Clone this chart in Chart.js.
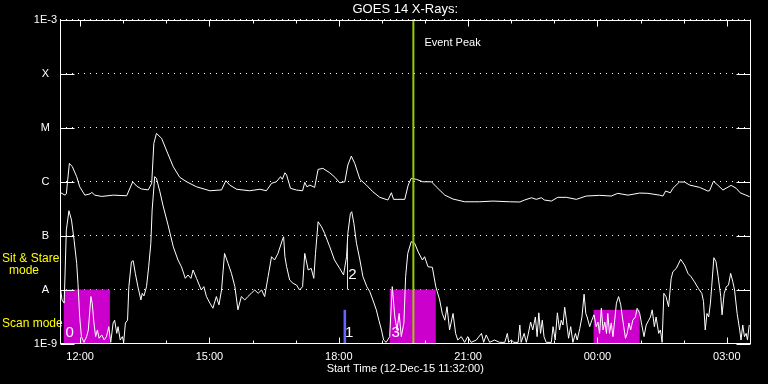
<!DOCTYPE html>
<html>
<head>
<meta charset="utf-8">
<script src="https://cdn.jsdelivr.net/npm/chart.js@4"></script>
<style>
  html, body { margin: 0; padding: 0; background: #000; }
  #wrap { width: 768px; height: 384px; }
</style>
</head>
<body>
<div id="wrap"><canvas id="goesChart" width="768" height="384"></canvas></div>
<script>
// hours since 00:00 on 12-Dec-15 (values > 24 are the next day)
const startHour = 11.533
const endHour = 27.55

// long channel (upper curve), W/m^2
const upperTime = [11.55, 11.65, 11.68, 11.75, 11.82, 11.92, 11.99, 12.11, 12.23, 12.27, 12.34, 12.50, 12.77, 13.08, 13.22, 13.31, 13.42, 13.58, 13.66, 13.71, 13.77, 13.89, 14.00, 14.16, 14.31, 14.47, 14.70, 15.01, 15.28, 15.38, 15.47, 15.63, 15.93, 16.17,
  16.32, 16.44, 16.55, 16.65, 16.69, 16.75, 16.79, 16.88, 17.02, 17.16, 17.21, 17.26, 17.33, 17.44, 17.52, 17.63, 17.79, 17.91, 18.02, 18.14, 18.21, 18.29, 18.37, 18.49, 18.64, 18.79, 18.95, 19.14, 19.22, 19.27, 19.53, 19.61, 19.68, 19.80, 19.95, 20.15, 20.26, 20.46, 20.65, 20.92, 21.27, 21.58, 21.96,
  22.20, 22.31, 22.47, 22.58, 22.70, 22.77, 22.93, 23.08, 23.28, 23.51, 23.74, 24.05, 24.32, 24.47, 24.71, 24.98, 25.17, 25.44, 25.52, 25.58, 25.69, 25.75, 25.90, 26.02, 26.14, 26.37, 26.56, 26.60, 26.69, 26.79, 26.91, 27.10, 27.22, 27.31, 27.53]
const upperFlux = [6.2e-7, 5.6e-7, 5.9e-7, 2.17e-6, 1.88e-6, 1.23e-6, 8.0e-7, 5.6e-7, 5.9e-7, 6.3e-7, 5.6e-7, 5.3e-7, 5.6e-7, 5.45e-7, 9.9e-7, 8.25e-7, 7.3e-7, 7.0e-7, 9.3e-7, 5.1e-6, 7.8e-6, 6.3e-6, 3.83e-6, 1.88e-6, 1.2e-6, 9.9e-7, 8.0e-7, 6.75e-7, 7.0e-7, 1.035e-6, 8.6e-7, 7.2e-7, 6.75e-7, 7.2e-7,
  6.75e-7, 9.26e-7, 9.9e-7, 1.23e-6, 1.1e-6, 1.455e-6, 1.32e-6, 7.48e-7, 6.96e-7, 6.75e-7, 9.66e-7, 8.0e-7, 8.6e-7, 7.8e-7, 1.68e-6, 1.755e-6, 1.455e-6, 1.2e-6, 9.5e-7, 9.9e-7, 2.02e-6, 2.96e-6, 2.17e-6, 1.1e-6, 8.6e-7, 6.47e-7, 5.1e-7, 4.55e-7, 6.2e-7, 4.68e-7, 4.68e-7, 8.6e-7, 1.146e-6, 1.1e-6, 9.9e-7, 9.9e-7, 8.0e-7, 5.6e-7, 4.74e-7, 4.22e-7, 4.22e-7, 4.35e-7, 4.22e-7,
  4.18e-7, 4.55e-7, 5.01e-7, 4.68e-7, 5.01e-7, 4.55e-7, 4.35e-7, 5.1e-7, 5.1e-7, 4.68e-7, 5.39e-7, 5.55e-7, 5.39e-7, 6.05e-7, 5.6e-7, 6.12e-7, 6.05e-7, 5.6e-7, 5.39e-7, 6.67e-7, 6.2e-7, 7.48e-7, 9.8e-7, 9.8e-7, 8.6e-7, 7.8e-7, 6.67e-7, 6.75e-7, 1.01e-6, 8.6e-7, 6.96e-7, 8.5e-7, 7.48e-7, 6.2e-7, 5.23e-7]

// short channel (lower curve), W/m^2
const lowerTime = [11.55, 11.58, 11.63, 11.68, 11.74, 11.80, 11.86, 11.92, 11.95, 11.99, 12.03, 12.09, 12.15, 12.19, 12.25, 12.28, 12.32, 12.36, 12.40, 12.44, 12.50, 12.56, 12.61, 12.665, 12.71, 12.765, 12.80, 12.85, 12.88, 12.93, 12.98, 13.01, 13.05, 13.10,
  13.13, 13.19, 13.23, 13.28, 13.34, 13.41, 13.44, 13.48, 13.54, 13.59, 13.64, 13.67, 13.73, 13.77, 13.85, 13.92, 14.04, 14.16, 14.27, 14.35, 14.44, 14.50, 14.57, 14.62, 14.70, 14.81, 14.87, 14.93, 15.01, 15.08, 15.16, 15.22, 15.28,
  15.35, 15.43, 15.51, 15.59, 15.66, 15.74, 15.82, 15.89, 15.97, 16.05, 16.13, 16.21, 16.28, 16.36, 16.44, 16.51, 16.59, 16.69, 16.72, 16.75, 16.79, 16.86, 16.94, 17.02, 17.09, 17.16, 17.21, 17.29, 17.36, 17.42, 17.46,
  17.52, 17.60, 17.67, 17.79, 17.90, 18.02, 18.11, 18.18, 18.21, 18.27, 18.30, 18.35, 18.41, 18.49, 18.56, 18.65, 18.72, 18.79, 18.87, 18.93, 18.99, 19.04, 19.10, 19.18, 19.24, 19.30, 19.35, 19.40, 19.45, 19.51,
  19.55, 19.60, 19.68, 19.76, 19.84, 19.94, 19.99, 20.07, 20.17, 20.25, 20.34, 20.40, 20.46, 20.51, 20.57, 20.65, 20.71, 20.76, 20.84, 20.92, 20.99, 21.07, 21.19, 21.31, 21.36, 21.42, 21.50, 21.61, 21.73, 21.85, 21.91, 21.94,
  22.00, 22.06, 22.16, 22.20, 22.23, 22.30, 22.35, 22.39, 22.45, 22.50, 22.56, 22.60, 22.64, 22.68, 22.72, 22.76, 22.81, 22.93, 22.97, 23.02, 23.07, 23.12, 23.16, 23.20, 23.24, 23.28, 23.33, 23.38, 23.43, 23.49, 23.53,
  23.59, 23.64, 23.69, 23.73, 23.76, 23.82, 23.87, 23.92, 23.97, 24.01, 24.05, 24.09, 24.13, 24.17, 24.21, 24.24, 24.28, 24.32, 24.36, 24.40, 24.44, 24.49, 24.54, 24.57, 24.61, 24.65, 24.69, 24.73, 24.77, 24.82, 24.88, 24.92, 24.98,
  25.02, 25.08, 25.13, 25.19, 25.23, 25.27, 25.32, 25.36, 25.42, 25.46, 25.50, 25.54, 25.59, 25.65, 25.71, 25.75, 25.83, 25.93, 26.02, 26.10, 26.17, 26.25, 26.34, 26.42, 26.46, 26.50, 26.54, 26.58, 26.62, 26.65,
  26.70, 26.75, 26.80, 26.86, 26.89, 26.94, 26.99, 27.04, 27.09, 27.14, 27.18, 27.24, 27.30, 27.33, 27.37, 27.41, 27.45, 27.48, 27.52]
const lowerFlux = [9.8e-9, 6.4e-9, 5.6e-9, 1.27e-7, 2.88e-7, 1.94e-7, 8.2e-8, 3.06e-8, 1.3e-8, 3.1e-9, 1.34e-9, 1.05e-9, 1.34e-9, 1.78e-9, 7.4e-9, 5.6e-9, 2.4e-9, 1.34e-9, 1.78e-9, 1.25e-9, 1.44e-9, 1.16e-9, 1.34e-9, 2.05e-9, 1.05e-9, 2.4e-9, 2.7e-9, 1.54e-9, 2.05e-9, 1.16e-9, 1.34e-9, 1.05e-9, 2.4e-9, 2.7e-9,
  1.13e-8, 3.27e-8, 3.42e-8, 1.99e-8, 1.13e-8, 6.4e-9, 8.5e-9, 7.6e-9, 1.13e-8, 2.64e-8, 7.2e-8, 2.96e-7, 1.23e-6, 1.15e-6, 6.5e-7, 3.67e-7, 1.56e-7, 6.2e-8, 3.52e-8, 2.64e-8, 1.61e-8, 1.86e-8, 1.61e-8, 2.3e-8, 1.61e-8, 9.8e-9, 1.13e-8, 7.4e-9, 5.6e-9, 4.5e-9, 7.4e-9, 5.2e-9, 9.8e-9,
  4.67e-8, 3.06e-8, 1.99e-8, 1.13e-8, 4.2e-9, 7.4e-9, 6.4e-9, 7.4e-9, 8.5e-9, 9.8e-9, 8.5e-9, 9.8e-9, 7.4e-9, 1.73e-8, 4.05e-8, 3.52e-8, 4.67e-8, 8.25e-8, 9.5e-8, 4.05e-8, 2.64e-8, 1.5e-8, 1.3e-8, 1.21e-8, 9.8e-9, 1.13e-8, 4.67e-8, 2.3e-8, 2.47e-8, 1.61e-8, 4.67e-8,
  1.8e-7, 1.45e-7, 1.1e-7, 6.2e-8, 3.52e-8, 2.47e-8, 1.86e-8, 4.05e-8, 1.1e-7, 2.58e-7, 2.76e-7, 1.68e-7, 7.2e-8, 3.52e-8, 1.73e-8, 1.13e-8, 9.1e-9, 6.4e-9, 4.2e-9, 2.7e-9, 1.78e-9, 1.16e-9, 1.05e-9, 1.34e-9, 1.13e-8, 3.1e-9, 1.78e-9, 3.6e-9, 1.34e-9, 2.4e-9,
  1.73e-8, 4.67e-8, 7.7e-8, 7.2e-8, 5.0e-8, 3.52e-8, 4.05e-8, 2.64e-8, 2.58e-8, 1.13e-8, 6.4e-9, 3.6e-9, 2.7e-9, 4.8e-9, 1.78e-9, 3.6e-9, 1.54e-9, 1.16e-9, 1.34e-9, 1.05e-9, 1.34e-9, 1.05e-9, 1.16e-9, 1.54e-9, 1.05e-9, 1.44e-9, 1.05e-9, 1.16e-9, 1.05e-9, 1.05e-9, 1.54e-9, 1.05e-9,
  1.16e-9, 1.05e-9, 1.05e-9, 2.2e-9, 1.05e-9, 1.54e-9, 1.05e-9, 1.44e-9, 2.5e-9, 1.78e-9, 3.1e-9, 1.34e-9, 3.7e-9, 1.54e-9, 2.7e-9, 1.34e-9, 1.05e-9, 1.05e-9, 2.05e-9, 1.16e-9, 3.7e-9, 1.78e-9, 2.7e-9, 2.2e-9, 4.7e-9, 2.7e-9, 1.25e-9, 2.05e-9, 1.05e-9, 1.54e-9, 1.16e-9,
  1.9e-9, 3.1e-9, 8.2e-9, 3.6e-9, 3.1e-9, 2.05e-9, 2.7e-9, 3.4e-9, 2.05e-9, 2.5e-9, 1.54e-9, 4.5e-9, 1.78e-9, 2.5e-9, 1.54e-9, 3.6e-9, 1.54e-9, 2.4e-9, 1.34e-9, 2.7e-9, 5.6e-9, 7.4e-9, 5.2e-9, 3.4e-9, 2.05e-9, 1.25e-9, 1.54e-9, 2.4e-9, 1.78e-9, 2.7e-9, 3.1e-9, 4.5e-9, 3.6e-9,
  2.4e-9, 1.34e-9, 2.2e-9, 2.7e-9, 3.1e-9, 4.2e-9, 2.05e-9, 3.1e-9, 1.54e-9, 1.78e-9, 1.05e-9, 8.5e-9, 7.4e-9, 4.8e-9, 1.61e-8, 2.14e-8, 2.47e-8, 3.62e-8, 2.84e-8, 1.99e-8, 1.73e-8, 1.39e-8, 1.05e-8, 8.5e-9, 6.0e-9, 1.78e-9, 3.6e-9, 3.1e-9, 5.6e-9, 1.13e-8,
  3.88e-8, 3.27e-8, 1.73e-8, 7.4e-9, 3.4e-9, 8.5e-9, 1.13e-8, 1.21e-8, 1.99e-8, 1.39e-8, 9.8e-9, 3.6e-9, 1.78e-9, 1.16e-9, 2.2e-9, 1.34e-9, 1.54e-9, 1.16e-9, 2.2e-9]

// axis ticks
const yTickValues = [1e-9, 1e-8, 1e-7, 1e-6, 1e-5, 1e-4, 1e-3]
const yTickLabels = ['1E-9', 'A', 'B', 'C', 'M', 'X', '1E-3']
const xTickHours = [12, 15, 18, 21, 24, 27]
const xTickLabels = ['12:00', '15:00', '18:00', '21:00', '00:00', '03:00']
const minorHours = [12, 13, 14, 15, 16, 17, 18, 19, 20, 21, 22, 23, 24, 25, 26, 27]

// scan mode periods and instrument marks
const scanStart = [11.62, 19.18, 23.91]
const scanEnd = [12.69, 20.25, 24.98]
const scanTop = [1e-8, 1e-8, 4.2e-9]
const scanLabels = ['0', '3', '']
const blueStart = 18.11
const blueEnd = 18.17
const blueTop = 4.2e-9
const blueLabel = '1'
const stareTime = 18.19
const stareFrom = 1e-8
const stareTo = 7.6e-8
const stareLabel = '2'
const eventPeak = 19.73

const FONT = "'Liberation Sans', Arial, sans-serif"

const overlay = {
    id: 'overlay',
    beforeDatasetsDraw(chart) {
        const {ctx, chartArea: a, scales: {x, y}} = chart
        ctx.save()
        ctx.fillStyle = '#cc00cc'
        for (let i = 0; i < scanStart.length; i++) {
            const x0 = x.getPixelForValue(scanStart[i])
            const x1 = x.getPixelForValue(scanEnd[i])
            const yt = y.getPixelForValue(scanTop[i])
            ctx.fillRect(x0, yt, x1 - x0, a.bottom - yt)
        }
        ctx.fillStyle = '#6464ff'
        const bx0 = x.getPixelForValue(blueStart)
        const bx1 = x.getPixelForValue(blueEnd)
        const byt = y.getPixelForValue(blueTop)
        ctx.fillRect(bx0, byt, bx1 - bx0, a.bottom - byt)
        ctx.restore()
    },
    afterDatasetsDraw(chart) {
        const {ctx, chartArea: a, scales: {x, y}} = chart
        ctx.save()
        // event peak line
        const ex = x.getPixelForValue(eventPeak)
        ctx.strokeStyle = '#99cc00'
        ctx.lineWidth = 2
        ctx.beginPath()
        ctx.moveTo(ex, a.top)
        ctx.lineTo(ex, a.bottom)
        ctx.stroke()
        // sit & stare mark
        const sx = Math.round(x.getPixelForValue(stareTime)) + 0.5
        ctx.strokeStyle = '#ffff00'
        ctx.lineWidth = 1
        ctx.beginPath()
        ctx.moveTo(sx, y.getPixelForValue(stareFrom))
        ctx.lineTo(sx, y.getPixelForValue(stareTo))
        ctx.stroke()

        // labels
        ctx.fillStyle = '#fff'
        ctx.font = '11px ' + FONT
        ctx.textBaseline = 'middle'
        ctx.textAlign = 'left'
        ctx.fillText('Event Peak', ex + 11, a.top + 23)
        ctx.font = '15px ' + FONT
        ctx.textAlign = 'center'
        for (let i = 0; i < scanStart.length; i++) {
            if (!scanLabels[i]) continue
            ctx.fillText(scanLabels[i], x.getPixelForValue(scanStart[i]) + 6, a.bottom - 11)
        }
        ctx.fillText(blueLabel, x.getPixelForValue(blueEnd) + 3, a.bottom - 11)
        ctx.fillText(stareLabel, sx + 5, y.getPixelForValue(Math.sqrt(stareFrom * stareTo)) + 9)

        // left side mode labels
        ctx.fillStyle = '#ffff00'
        ctx.font = '12px ' + FONT
        const midBA = y.getPixelForValue(Math.sqrt(1e-7 * 1e-8))
        const midA9 = y.getPixelForValue(Math.sqrt(1e-8 * 1e-9))
        ctx.textAlign = 'left'
        ctx.fillText('Sit & Stare', 2, midBA - 4)
        ctx.textAlign = 'center'
        ctx.fillText('mode', 24, midBA + 8)
        ctx.textAlign = 'left'
        ctx.fillText('Scan mode', 2, midA9 + 7)

        // frame
        ctx.strokeStyle = '#fff'
        ctx.lineWidth = 1
        const L = Math.round(a.left) + 0.5, R = Math.round(a.right) - 0.5
        const T = Math.round(a.top) + 0.5, B = Math.round(a.bottom) - 0.5
        ctx.strokeRect(L, T, R - L, B - T)
        ctx.beginPath()
        // hour ticks top and bottom
        minorHours.forEach(h => {
            const px = Math.round(x.getPixelForValue(h)) + 0.5
            const len = h % 3 === 0 ? 6 : 3
            ctx.moveTo(px, T)
            ctx.lineTo(px, T + len)
            ctx.moveTo(px, B)
            ctx.lineTo(px, B - len)
        })
        // level ticks left and right
        yTickValues.forEach(v => {
            const py = Math.round(y.getPixelForValue(v)) + 0.5
            ctx.moveTo(L, py)
            ctx.lineTo(L + 14, py)
            ctx.moveTo(R, py)
            ctx.lineTo(R - 14, py)
        })
        ctx.stroke()
        ctx.restore()
    }
}

const toPoints = (t, f) => t.map((v, i) => ({x: v, y: f[i]}))

new Chart('goesChart', {
    type: 'line',
    data: {
        datasets: [
            {
                label: '0.1-0.8 nm',
                data: toPoints(upperTime, upperFlux),
                borderColor: '#fff',
                borderWidth: 1,
                pointRadius: 0,
                tension: 0,
            },
            {
                label: '0.05-0.4 nm',
                data: toPoints(lowerTime, lowerFlux),
                borderColor: '#fff',
                borderWidth: 1,
                pointRadius: 0,
                tension: 0,
            },
        ]
    },
    options: {
        responsive: false,
        animation: false,
        events: [],
        layout: { padding: { left: 0, right: 17.5, top: 0, bottom: 0 } },
        plugins: {
            legend: { display: false },
            tooltip: { enabled: false },
            title: {
                display: true,
                text: 'GOES 14 X-Rays:',
                color: '#fff',
                fullSize: false,
                font: { family: FONT, size: 13, weight: 'normal' },
                padding: { top: 2, bottom: 2 },
            },
        },
        scales: {
            x: {
                type: 'linear',
                min: startHour,
                max: endHour,
                afterBuildTicks: s => { s.ticks = xTickHours.map(v => ({value: v})) },
                afterFit: s => { s.height = 40.5 },
                grid: { display: false, drawTicks: false },
                border: { display: false },
                ticks: {
                    autoSkip: false,
                    maxRotation: 0,
                    padding: 7,
                    color: '#fff',
                    font: { family: FONT, size: 11 },
                    callback: (v, i) => xTickLabels[i],
                },
                title: {
                    display: true,
                    text: 'Start Time (12-Dec-15 11:32:00)',
                    color: '#fff',
                    font: { family: FONT, size: 11 },
                    padding: { top: 0, bottom: 8 },
                },
            },
            y: {
                type: 'logarithmic',
                min: 1e-9,
                max: 1e-3,
                afterBuildTicks: s => { s.ticks = yTickValues.map(v => ({value: v})) },
                afterFit: s => { s.width = 60 },
                grid: { color: '#fff', lineWidth: 1, drawTicks: false },
                border: { display: false, dash: [1, 5] },
                ticks: {
                    crossAlign: 'center',
                    padding: 3,
                    color: '#fff',
                    font: { family: FONT, size: 11 },
                    callback: (v, i) => yTickLabels[i],
                },
            },
        },
    },
    plugins: [overlay],
})
</script>
</body>
</html>
